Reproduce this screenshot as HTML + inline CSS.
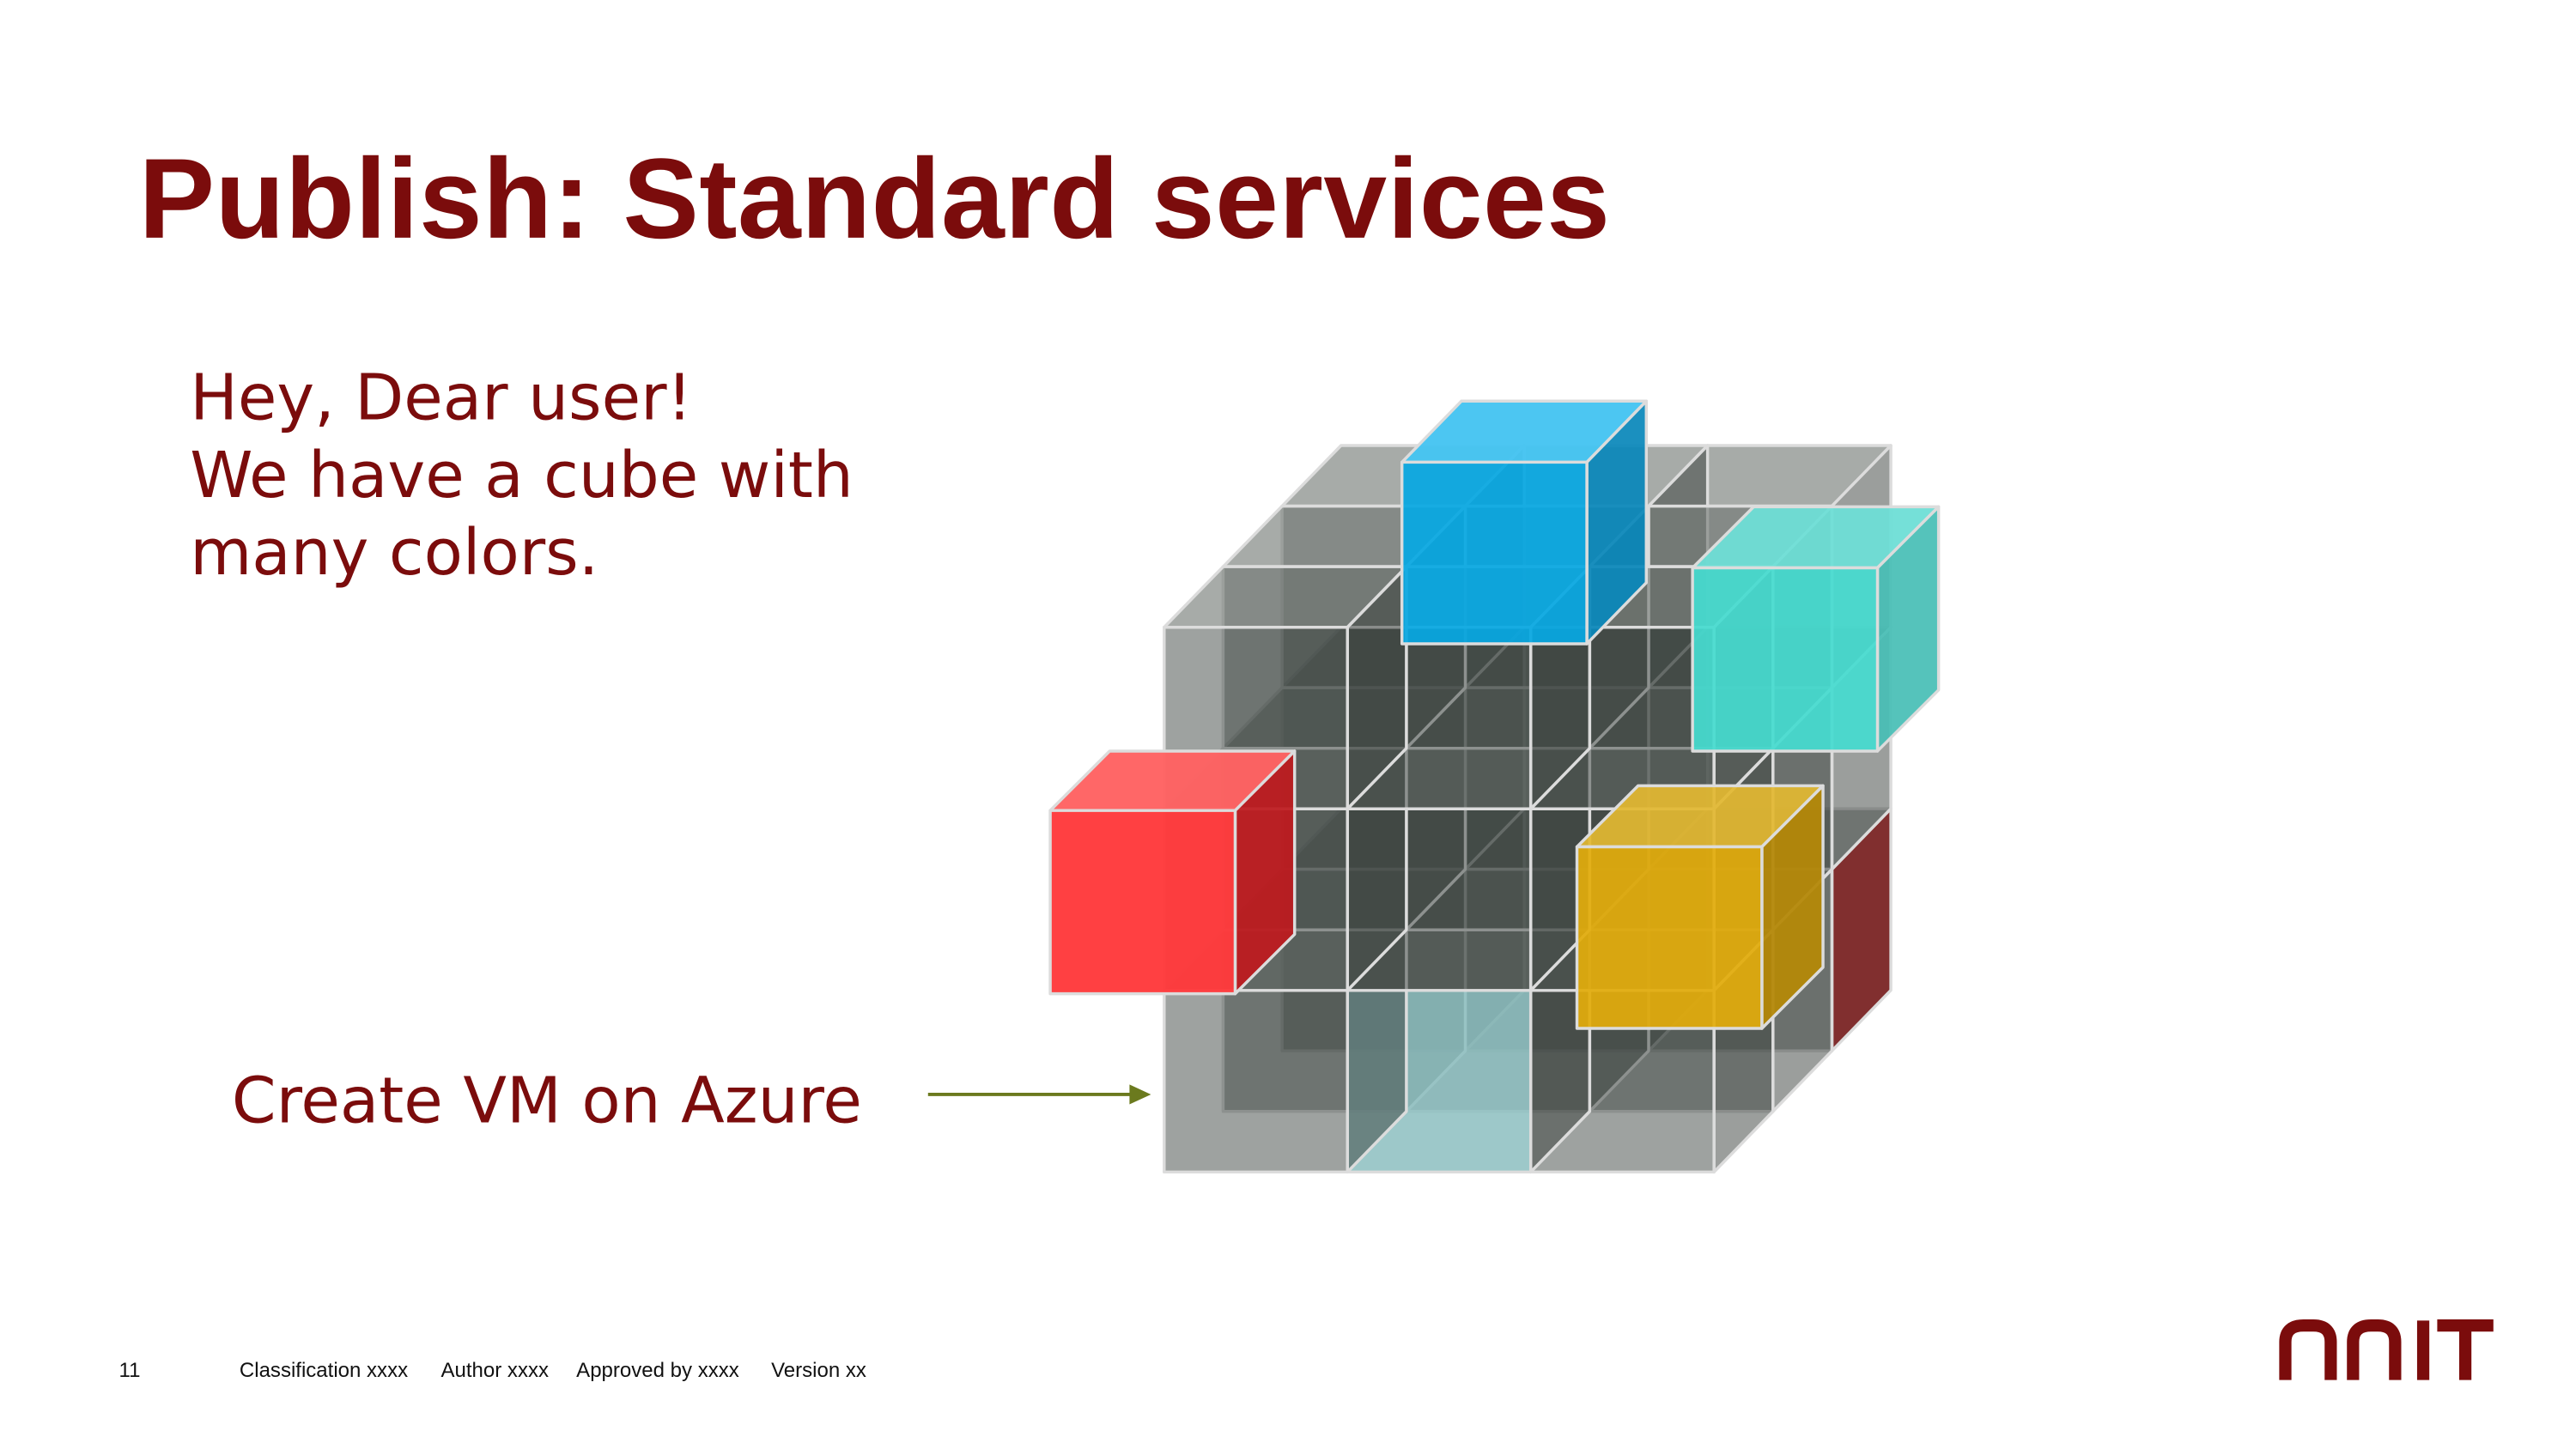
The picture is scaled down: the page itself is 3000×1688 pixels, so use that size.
<!DOCTYPE html>
<html><head><meta charset="utf-8">
<style>
html,body{margin:0;padding:0;background:#fff;}
svg{display:block;width:3000px;height:1688px;}
</style></head>
<body>
<svg id="s" viewBox="0 0 1560 877.8" xmlns="http://www.w3.org/2000/svg">
<rect width="1560" height="878" fill="#fff"/>
<text x="84" y="144" font-family="Liberation Sans, Arial, sans-serif" font-weight="bold" font-size="69" fill="#7b0c0c" textLength="891">Publish: Standard services</text>
<g font-family="DejaVu Sans, Verdana, sans-serif" font-size="38.5" fill="#7b0c0c">
<text x="115" y="254">Hey, Dear user!</text>
<text x="115" y="301">We have a cube with</text>
<text x="115" y="348">many colors.</text>
<text x="522" y="680" text-anchor="end">Create VM on Azure</text>
</g>
<line x1="562" y1="663" x2="686" y2="663" stroke="#6b7a1e" stroke-width="2"/>
<polygon points="697,663 684,657 684,669" fill="#6b7a1e"/>
<g id="cube"></g>
<g font-family="Liberation Sans, Arial, sans-serif" font-size="12.5" fill="#111">
<text x="72" y="834">11</text>
<text x="145" y="834">Classification xxxx</text>
<text x="267" y="834">Author xxxx</text>
<text x="349" y="834">Approved by xxxx</text>
<text x="467" y="834">Version xx</text>
</g>
<g fill="none" stroke="#7b0c0c" stroke-width="7.4">
<path d="M1384 836 V813 Q1384 803 1395 803 H1401 Q1411.5 803 1411.5 813 V836"/>
<path d="M1425 836 V813 Q1425 803 1436 803 H1440 Q1450.5 803 1450.5 813 V836"/>
<path d="M1467.5 800 V836"/>
<path d="M1476 803 H1510 M1493 803 V836"/>
</g>
</svg>
<script>
var g=document.getElementById('cube');
function poly(pts,fill){var p=document.createElementNS('http://www.w3.org/2000/svg','polygon');
p.setAttribute('points',pts.map(function(a){return a[0]+','+a[1]}).join(' '));
p.setAttribute('fill',fill);p.setAttribute('stroke','#dcdcdc');p.setAttribute('stroke-width','1.8');p.setAttribute('stroke-linejoin','round');g.appendChild(p);}
function box(x,y,w,h,dx,dy,cf,ct,cs){
 poly([[x,y],[x+dx,y+dy],[x+w+dx,y+dy],[x+w,y]],ct);
 poly([[x+w,y],[x+w+dx,y+dy],[x+w+dx,y+h+dy],[x+w,y+h]],cs);
 poly([[x,y],[x+w,y],[x+w,y+h],[x,y+h]],cf);
}
var dx=35.7,dy=-36.7;
for(var k=2;k>=0;k--){
 for(var j=2;j>=0;j--){
  for(var i=2;i>=0;i--){
   var x=705+111*i+dx*k, y=380+110*j+dy*k;
   var side='rgba(55,62,58,0.5)';
   if(k==2&&i==2&&j==2) side='rgba(122,36,36,0.95)';
   var front='rgba(62,70,66,0.5)';
   if(k==0&&i==1&&j==2) front='rgba(140,190,192,0.85)';
   box(x,y,111,110,dx,dy,front,'rgba(120,126,122,0.65)',side);
  }
 }
}
box(849,280,112,110,36,-37,'rgba(8,168,226,0.93)','rgba(70,196,242,0.97)','rgba(10,136,186,0.93)');
box(1025,344,112,111,37,-37,'rgba(70,220,208,0.93)','rgba(110,222,214,0.95)','rgba(72,190,182,0.93)');
box(636,491,112,111,36,-36,'rgba(255,58,60,0.97)','rgba(255,98,98,0.97)','rgba(190,26,30,0.93)');
box(955,513,112,110,37,-37,'rgba(226,172,12,0.93)','rgba(226,184,50,0.93)','rgba(180,136,8,0.95)');
</script>
</body></html>
